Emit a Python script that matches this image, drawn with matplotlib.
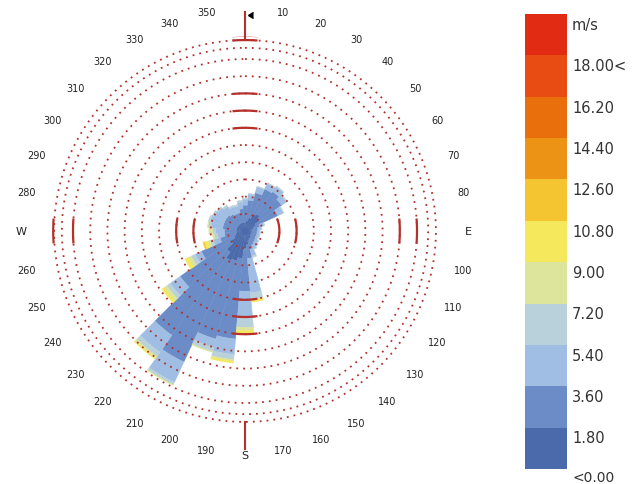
import numpy as np
import matplotlib
matplotlib.use("Agg")
import matplotlib.pyplot as plt
from matplotlib.patches import Rectangle

# Wind directions (degrees, clockwise from north), 10-degree sectors
directions = np.arange(0, 360, 10)

# Frequency (%) per direction for each wind-speed class
speed_0_18 = [0.5, 0.6, 0.8, 1.1, 1.2, 1.0, 0.7, 0.5, 0.4, 0.4, 0.4, 0.4,
              0.4, 0.4, 0.5, 0.5, 0.6, 0.8, 1.0, 1.6, 1.8, 1.9, 1.5, 1.0,
              0.7, 0.6, 0.5, 0.5, 0.5, 0.5, 0.5, 0.5, 0.5, 0.5, 0.5, 0.5]
speed_18_36 = [1.0, 1.2, 1.5, 1.6, 1.6, 1.6, 1.4, 0.4, 0.35, 0.3, 0.3, 0.3,
               0.3, 0.35, 0.3, 0.4, 0.5, 0.8, 2.5, 4.7, 4.7, 6.5, 5.9, 3.6,
               2.1, 0.9, 0.7, 0.7, 0.8, 0.8, 0.8, 0.8, 0.7, 0.6, 0.6, 0.8]
speed_36_54 = [0.35, 0.35, 0.35, 0.35, 0.35, 0.35, 0.35, 0.25, 0.2, 0.15, 0.15, 0.15,
               0.15, 0.2, 0.25, 0.25, 0.4, 2.0, 1.5, 0.9, 0.5, 1.3, 1.2, 0.7,
               0.4, 0.4, 0.4, 0.5, 0.7, 0.8, 0.7, 0.6, 0.55, 0.45, 0.4, 0.4]
speed_54_72 = [0.05, 0.05, 0.05, 0.05, 0.05, 0.05, 0.05, 0.05, 0.05, 0.05, 0.05, 0.05,
               0.05, 0.05, 0.05, 0.05, 0.1, 0.4, 0.6, 0.3, 0.25, 0.15, 0.3, 0.25,
               0.25, 0.2, 0.2, 0.2, 0.15, 0.1, 0.1, 0.1, 0.1, 0.1, 0.1, 0.1]
speed_72_90 = [0, 0, 0, 0, 0, 0, 0, 0, 0, 0, 0, 0,
               0, 0, 0, 0, 0, 0.05, 0.2, 0.1, 0.05, 0.05, 0.15, 0.2,
               0.2, 0.15, 0.1, 0.2, 0.05, 0, 0, 0, 0, 0, 0, 0]
speed_90_108 = [0, 0, 0, 0, 0, 0, 0, 0, 0, 0, 0, 0,
                0, 0, 0, 0, 0, 0.1, 0.15, 0.1, 0, 0, 0.05, 0.15,
                0.2, 0.2, 0, 0, 0, 0, 0, 0, 0, 0, 0, 0]
speed_108_126 = [0, 0, 0, 0, 0, 0, 0, 0, 0, 0, 0, 0,
                 0, 0, 0, 0, 0, 0, 0, 0, 0, 0, 0, 0,
                 0, 0.08, 0, 0, 0, 0, 0, 0, 0, 0, 0, 0]

speed_classes = [speed_0_18, speed_18_36, speed_36_54, speed_54_72,
                 speed_72_90, speed_90_108, speed_108_126]

# Colour scale (lowest class first) and its labels
scale_colors = ["#4b6aab", "#6b8cc6", "#a0bde3", "#b9d1db", "#dde49b", "#f6e85c",
                "#f4c431", "#ec9315", "#e86f0b", "#e84c13", "#e12b13"]
scale_labels = ["<0.00", "1.80", "3.60", "5.40", "7.20", "9.00", "10.80",
                "12.60", "14.40", "16.20", "18.00<", "m/s"]

compass_labels = {0: "", 90: "E", 180: "S", 270: "W"}

GRID = "#b3302b"
W_PX, H_PX = 635, 485
CX, CY = 245, 232          # rose centre (pixels)
UNIT = 17.2                # pixels per 1 %
RMAX = 11.3

fig = plt.figure(figsize=(W_PX / 100, H_PX / 100), dpi=100)
size = RMAX * UNIT
ax = fig.add_axes([(CX - size) / W_PX, (H_PX - CY - size) / H_PX,
                   2 * size / W_PX, 2 * size / H_PX], projection="polar")
ax.set_theta_zero_location("N")
ax.set_theta_direction(-1)
ax.set_ylim(0, RMAX)
ax.grid(False)
ax.set_xticks([])
ax.set_yticks([])
ax.spines["polar"].set_visible(False)
ax.patch.set_alpha(0)

theta = np.deg2rad(directions)
width = np.deg2rad(10)
bottom = np.zeros(len(directions))
for vals, col in zip(speed_classes, scale_colors):
    vals = np.asarray(vals, dtype=float)
    keep = vals > 0
    ax.bar(theta[keep], vals[keep], width=width, bottom=bottom[keep], color=col,
           edgecolor=col, linewidth=0.3, zorder=2)
    bottom += vals

# dotted range rings
t = np.linspace(0, 2 * np.pi, 1441)
for r in list(range(1, 11)) + [10.65, 11.1]:
    ax.plot(t, np.full_like(t, r), color=GRID, lw=1.3,
            ls=(0, (1.0, 2.8)), zorder=3)

# solid ring pieces where the rings meet the main axes
pieces = {0: [6, 7, 8, 11.1, 11.35], 180: [4, 5, 6],
          90: [2, 3, 9, 10], 270: [3, 4, 10, 11.15]}
for ang, radii in pieces.items():
    for r in radii:
        half = 12.5 / (r * UNIT)
        tt = np.linspace(np.deg2rad(ang) - half, np.deg2rad(ang) + half, 20)
        ax.plot(tt, np.full_like(tt, r), color=GRID, lw=1.6, zorder=3,
                solid_capstyle="butt")

# north and south markers
ax.plot([0, 0], [11.1, 12.75], color=GRID, lw=1.5, zorder=3, clip_on=False)
ax.plot([np.pi, np.pi], [11.1, 12.7], color=GRID, lw=1.5, zorder=3, clip_on=False)
ax.plot([0.012], [12.55], marker=4, color="black", ms=5, clip_on=False, zorder=4)

# direction labels
for d in range(0, 360, 10):
    txt = compass_labels.get(d, str(d))
    if not txt:
        continue
    r = 13.0 if d in compass_labels else 12.9
    fs = 8 if d in compass_labels else 7
    ax.text(np.deg2rad(d), r, txt, ha="center", va="center", fontsize=fs,
            color="#222222", clip_on=False)

# colour scale
cax = fig.add_axes([525 / W_PX, (H_PX - 470) / H_PX, 42 / W_PX, 455 / H_PX])
for i, col in enumerate(scale_colors):
    cax.add_patch(Rectangle((0, i), 1, 1, facecolor=col, edgecolor="none"))
cax.set_xlim(0, 1)
cax.set_ylim(0, len(scale_colors))
cax.axis("off")
for k, lab in enumerate(scale_labels):
    y = k - 0.25 if k > 0 else -0.2
    cax.text(1.12, y, lab, ha="left", va="center", fontsize=10.5 if k > 0 else 10,
             color="#333333", clip_on=False)

fig.savefig("out.png", dpi=100)
